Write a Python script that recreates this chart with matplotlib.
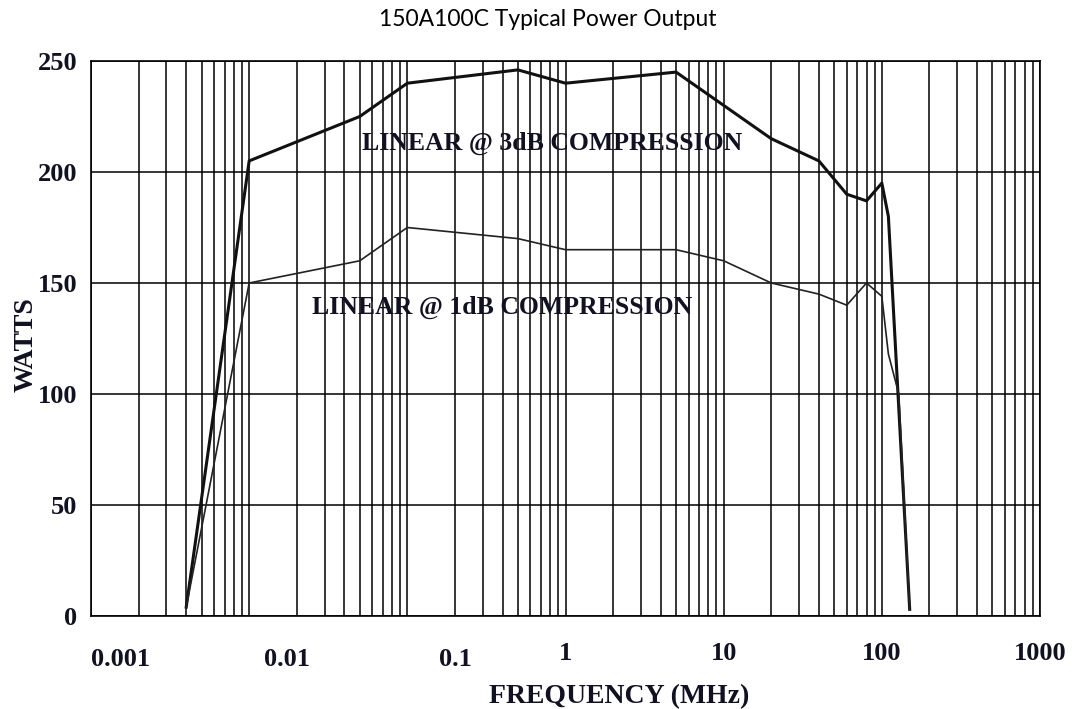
import matplotlib
matplotlib.use('Agg')
import matplotlib.pyplot as plt
from matplotlib.transforms import ScaledTranslation
from matplotlib.ticker import LogLocator, NullFormatter, FixedLocator

# values
freq_3db = [0.004, 0.01, 0.05, 0.1, 0.5, 1, 5, 20, 40, 60, 80, 100, 110, 150]
watts_3db = [4, 205, 225, 240, 246, 240, 245, 215, 205, 190, 187, 195, 180, 3]

freq_1db = [0.004, 0.01, 0.05, 0.1, 0.5, 1, 5, 10, 20, 40, 60, 80, 100, 110, 128, 150]
watts_1db = [4, 150, 160, 175, 170, 165, 165, 160, 150, 145, 140, 150, 144, 118, 100, 3]

x_ticks = [0.001, 0.01, 0.1, 1, 10, 100, 1000]
x_tick_labels = ['0.001', '0.01', '0.1', '1', '10', '100', '1000']
y_ticks = [0, 50, 100, 150, 200, 250]

serif = 'Liberation Serif'
ink = '#111122'

fig = plt.figure(figsize=(10.88, 7.09), dpi=100)
ax = fig.add_axes([91 / 1088, 1 - 616 / 709, 949 / 1088, 555 / 709])

ax.plot(freq_3db, watts_3db, color='#111111', lw=2.2, zorder=3)
ax.plot(freq_1db, watts_1db, color='#222222', lw=1.2, zorder=3)

ax.set_xscale('log')
ax.set_xlim(0.001, 1000)
ax.set_ylim(0, 250)

ax.xaxis.set_major_locator(FixedLocator(x_ticks))
ax.xaxis.set_minor_locator(LogLocator(base=10, subs=range(2, 10), numticks=50))
ax.xaxis.set_minor_formatter(NullFormatter())
ax.set_xticks(x_ticks, x_tick_labels)
ax.set_yticks(y_ticks)

ax.grid(True, which='major', color='black', lw=1.1)
ax.grid(True, which='minor', axis='x', color='black', lw=1.1)
for s in ax.spines.values():
    s.set_color('black')
    s.set_linewidth(1.2)

ax.tick_params(axis='both', which='both', length=0)
ax.tick_params(axis='x', pad=19)
ax.tick_params(axis='y', pad=10)
for lab in ax.get_xticklabels() + ax.get_yticklabels():
    lab.set_fontfamily(serif)
    lab.set_fontweight('bold')
    lab.set_fontsize(19)
    lab.set_color(ink)

# the decimal labels sit to the right of their grid lines in the original
shifts = {'0.001': (0.30, -0.06), '0.01': (0.38, -0.06), '0.1': (0.48, -0.06)}
for lab in ax.get_xticklabels():
    if lab.get_text() in shifts:
        dx, dy = shifts[lab.get_text()]
        lab.set_transform(lab.get_transform() + ScaledTranslation(dx, dy, fig.dpi_scale_trans))

ax.set_xlabel('FREQUENCY (MHz)', fontfamily=serif, fontweight='bold', fontsize=20,
              color=ink, va='center')
ax.xaxis.set_label_coords((619 - 91) / 949, (616 - 697) / 555)
ax.set_ylabel('WATTS', fontfamily=serif, fontweight='bold', fontsize=20,
              color=ink, va='center')
ax.yaxis.set_label_coords((26 - 91) / 949, (616 - 345) / 555)

ax.text(0.052, 213, 'LINEAR @ 3dB COMPRESSION', fontfamily=serif, fontweight='bold',
        fontsize=18.5, color=ink, va='center', ha='left')
ax.text(0.025, 139, 'LINEAR @ 1dB COMPRESSION', fontfamily=serif, fontweight='bold',
        fontsize=18.5, color=ink, va='center', ha='left')

fig.text(548 / 1088, 1 - 20 / 709, '150A100C Typical Power Output', fontfamily='Lato',
         fontsize=16.5, ha='center', va='center', color='black')

fig.savefig('out.png', dpi=100)
